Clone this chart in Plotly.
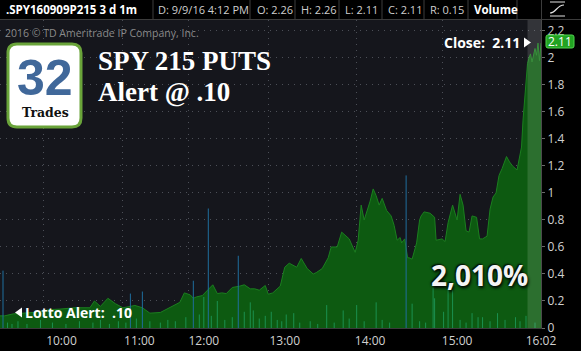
import plotly.graph_objects as go

# ---------------- data ----------------
bar_index = [0, 3, 9, 13, 22, 30, 33, 40, 50, 60, 63, 67, 72, 77, 82, 87, 90, 95, 100, 107,
             113, 120, 123, 127, 129, 131, 135, 140, 142, 145, 148, 151, 155, 160, 163, 167,
             170, 173, 177, 179, 182, 187, 189, 190, 193, 197, 198, 201, 205, 209, 211, 215,
             219, 221, 225, 228, 231, 233, 237, 239, 241, 243, 247, 249, 251, 253, 255, 258,
             261, 263, 265, 267, 268, 270, 272, 273, 275, 278, 280, 281, 283, 287, 290, 291,
             295, 297, 299, 300, 302, 305, 307, 309, 311, 313, 315, 318, 320, 322, 325, 327,
             329, 331, 333, 335, 338, 340, 342, 345, 347, 348, 349, 350, 351, 352, 353, 354,
             355, 357, 358, 359, 360, 361]
price = [0.09, 0.09, 0.105, 0.107, 0.115, 0.13, 0.136, 0.14, 0.15, 0.15, 0.20, 0.16, 0.22, 0.18,
         0.15, 0.16, 0.167, 0.15, 0.11, 0.115, 0.15, 0.19, 0.26, 0.245, 0.22, 0.23, 0.24, 0.30,
         0.32, 0.255, 0.26, 0.255, 0.30, 0.31, 0.32, 0.29, 0.29, 0.28, 0.315, 0.25, 0.26, 0.31,
         0.41, 0.45, 0.48, 0.46, 0.45, 0.515, 0.44, 0.40, 0.41, 0.44, 0.52, 0.60, 0.60, 0.71,
         0.68, 0.66, 0.56, 0.65, 0.91, 0.80, 0.94, 1.03, 0.98, 0.91, 0.96, 0.87, 0.83, 0.76,
         0.65, 0.67, 0.63, 0.66, 0.52, 0.52, 0.51, 0.63, 0.80, 0.83, 0.86, 0.85, 0.82, 0.65,
         0.66, 0.64, 0.78, 0.83, 0.91, 0.80, 0.99, 0.91, 0.72, 0.71, 0.83, 0.82, 0.66, 0.66,
         0.68, 0.88, 0.97, 1.00, 1.13, 1.18, 1.27, 1.23, 1.20, 1.17, 1.28, 1.34, 1.54, 1.69,
         1.78, 1.96, 2.00, 2.03, 1.97, 2.07, 2.02, 2.11, 1.98, 2.11]

blue_vol_index = [2, 87, 95, 129, 139, 159, 271]
blue_volume = [0.425, 0.255, 0.27, 0.35, 0.885, 0.535, 1.13]

green_vol_index = [5, 8, 12, 18, 27, 35, 44, 53, 62, 67, 73, 79, 84, 91, 100, 107, 112, 117,
                   124, 133, 136, 141, 145, 150, 155, 163, 167, 169, 173, 177, 181, 185, 188,
                   191, 196, 200, 207, 212, 218, 223, 229, 233, 238, 243, 251, 255, 260, 275,
                   280, 284, 289, 290, 296, 299, 302, 307, 311, 315, 319, 322, 327, 332, 337,
                   344, 347, 351, 357]
green_volume = [0.04, 0.03, 0.05, 0.03, 0.06, 0.04, 0.03, 0.05, 0.04, 0.06, 0.03, 0.05, 0.04,
                0.07, 0.05, 0.04, 0.06, 0.05, 0.08, 0.10, 0.23, 0.09, 0.20, 0.06, 0.08, 0.12,
                0.19, 0.13, 0.07, 0.09, 0.12, 0.06, 0.05, 0.10, 0.11, 0.04, 0.05, 0.03, 0.17,
                0.04, 0.13, 0.07, 0.17, 0.05, 0.19, 0.06, 0.04, 0.18, 0.05, 0.04, 0.30, 0.22,
                0.12, 0.33, 0.28, 0.06, 0.04, 0.11, 0.08, 0.08, 0.05, 0.11, 0.06, 0.08, 0.05,
                0.09, 0.04]

y_ticks = [0, 0.2, 0.4, 0.6, 0.8, 1.0, 1.2, 1.4, 1.6, 1.8, 2.0, 2.2]
y_labels = ["0", "0.2", "0.4", "0.6", "0.8", "1", "1.2", "1.4", "1.6", "1.8", "2", "2.2"]
time_ticks = [41, 93, 136, 190, 247, 305, 361]
time_labels = ["10:00", "11:00", "12:00", "13:00", "14:00", "15:00", "16:02"]
grid_bars = [29, 82, 126, 179, 238, 295]

header_items = [(".SPY160909P215 3 d 1m", 4, "#ffffff", True),
                ("D: 9/9/16 4:12 PM", 156, "#cfcfcf", False),
                ("O: 2.26", 255, "#cfcfcf", False),
                ("H: 2.26", 299, "#cfcfcf", False),
                ("L: 2.11", 343, "#cfcfcf", False),
                ("C: 2.11", 386, "#cfcfcf", False),
                ("R: 0.15", 428, "#cfcfcf", False),
                ("Volume", 472, "#ffffff", True)]
header_separators = [153, 250, 295, 339, 382, 424, 468, 517]

# ---------------- layout helpers ----------------
W, H = 581, 351
ML, MR, MT, MB = 0, 40, 20, 23
PW, PH = W - ML - MR, H - MT - MB
X_MAX = 361
Y_MAX = 2.281


def fx(px):
    return (px - ML) / PW


def fy(py):
    return (H - MB - py) / PH


def P(px, py):
    return f"{fx(px):.5f},{fy(py):.5f}"


def stems(idx, vals):
    xs, ys = [], []
    for i, v in zip(idx, vals):
        xs += [i, i, None]
        ys += [0, v, None]
    return xs, ys


fig = go.Figure()

fig.add_trace(go.Scatter(
    x=bar_index, y=price, mode="lines", fill="tozeroy",
    line=dict(color="#1b7f1f", width=1), fillcolor="#0d5a11",
    hoverinfo="skip", showlegend=False))

gx, gy = stems(green_vol_index, green_volume)
fig.add_trace(go.Scatter(x=gx, y=gy, mode="lines", line=dict(color="#1b9050", width=1),
                         hoverinfo="skip", showlegend=False))
bx, by = stems(blue_vol_index, blue_volume)
fig.add_trace(go.Scatter(x=bx, y=by, mode="lines", line=dict(color="#1f6e9e", width=1),
                         hoverinfo="skip", showlegend=False))

shapes = []
# after-hours band
shapes.append(dict(type="rect", xref="x", yref="paper", x0=352, x1=X_MAX, y0=0, y1=1,
                   fillcolor="rgba(255,255,255,0.13)", line=dict(width=0), layer="above"))
# header bottom line
shapes.append(dict(type="line", xref="paper", yref="paper", x0=fx(0), x1=fx(W),
                   y0=fy(19.5), y1=fy(19.5), line=dict(color="#3c3c3c", width=1)))
for sx in header_separators:
    shapes.append(dict(type="line", xref="paper", yref="paper", x0=fx(sx), x1=fx(sx),
                       y0=fy(0), y1=fy(19), line=dict(color="#3c3c3c", width=1)))
# vertical line separating price scale
shapes.append(dict(type="line", xref="paper", yref="paper", x0=fx(541.5), x1=fx(541.5),
                   y0=fy(0), y1=fy(20), line=dict(color="#3c3c3c", width=1)))
# icon (top right)
shapes.append(dict(type="path", xref="paper", yref="paper",
                   path=f"M{P(550,2)} L{P(565,2)} M{P(550,16)} L{P(565,16)} "
                        f"M{P(550,13)} C{P(556,13)} {P(557,5)} {P(564,5)}",
                   line=dict(color="#e0e0e0", width=1.2)))
# close badge
shapes.append(dict(type="path", xref="paper", yref="paper",
                   path=f"M{P(548,35)} L{P(572,35)} Q{P(574,35)} {P(574,37)} L{P(574,46)} "
                        f"Q{P(574,48)} {P(572,48)} L{P(548,48)} Q{P(546,48)} {P(546,46)} "
                        f"L{P(546,37)} Q{P(546,35)} {P(548,35)} Z",
                   fillcolor="#22a322", line=dict(color="#4fd34f", width=1)))
# close arrow
shapes.append(dict(type="path", xref="paper", yref="paper",
                   path=f"M{P(524,37.5)} L{P(531,42.5)} L{P(524,47.5)} Z",
                   fillcolor="#ffffff", line=dict(width=0)))
# lotto arrow
shapes.append(dict(type="path", xref="paper", yref="paper",
                   path=f"M{P(22,307.5)} L{P(15,312.5)} L{P(22,317.5)} Z",
                   fillcolor="#ffffff", line=dict(width=0)))
# logo box
lx0, lx1, ly0, ly1, r = 8, 81, 44, 127, 9
shapes.append(dict(type="path", xref="paper", yref="paper",
                   path=f"M{P(lx0+r,ly0)} L{P(lx1-r,ly0)} Q{P(lx1,ly0)} {P(lx1,ly0+r)} "
                        f"L{P(lx1,ly1-r)} Q{P(lx1,ly1)} {P(lx1-r,ly1)} L{P(lx0+r,ly1)} "
                        f"Q{P(lx0,ly1)} {P(lx0,ly1-r)} L{P(lx0,ly0+r)} Q{P(lx0,ly0)} {P(lx0+r,ly0)} Z",
                   fillcolor="#ffffff", line=dict(color="#6aa43a", width=3)))

ann = []
for text, hx, col, bold in header_items:
    ann.append(dict(text=text, xref="paper", yref="paper", x=fx(hx), y=fy(9.5),
                    xanchor="left", yanchor="middle", showarrow=False,
                    font=dict(family="Open Sans", size=11 if not bold else 11.5, color=col,
                              weight="bold" if bold else "normal")))
ann.append(dict(text="2016 © TD Ameritrade IP Company, Inc.", xref="paper", yref="paper",
                x=fx(3), y=fy(33), xanchor="left", yanchor="middle", showarrow=False,
                font=dict(family="Open Sans", size=10.5, color="#8a8a8a")))
ann.append(dict(text="SPY 215 PUTS", xref="paper", yref="paper", x=fx(96), y=fy(61),
                xanchor="left", yanchor="middle", showarrow=False,
                font=dict(family="Liberation Serif", size=27,
                          color="#ffffff", weight="bold")))
ann.append(dict(text="Alert @ .10", xref="paper", yref="paper", x=fx(96), y=fy(92),
                xanchor="left", yanchor="middle", showarrow=False,
                font=dict(family="Liberation Serif", size=27,
                          color="#ffffff", weight="bold")))
ann.append(dict(text="32", xref="paper", yref="paper", x=fx(45), y=fy(78),
                xanchor="center", yanchor="middle", showarrow=False,
                font=dict(family="Liberation Sans", size=50, color="#40689a", weight="bold")))
ann.append(dict(text="Trades", xref="paper", yref="paper", x=fx(45), y=fy(112),
                xanchor="center", yanchor="middle", showarrow=False,
                font=dict(family="DejaVu Serif", size=12.5, color="#111111", weight="bold")))
ann.append(dict(text="Close:\u00a0 2.11", xref="paper", yref="paper", x=fx(522), y=fy(42.5),
                xanchor="right", yanchor="middle", showarrow=False,
                font=dict(family="Open Sans", size=14, color="#ffffff", weight="bold")))
ann.append(dict(text="2.11", xref="paper", yref="paper", x=fx(560), y=fy(41.5),
                xanchor="center", yanchor="middle", showarrow=False,
                font=dict(family="Open Sans", size=12, color="#ffffff")))
ann.append(dict(text="Lotto Alert:\u00a0 .10", xref="paper", yref="paper", x=fx(23), y=fy(312.5),
                xanchor="left", yanchor="middle", showarrow=False,
                font=dict(family="Open Sans", size=14, color="#ffffff", weight="bold")))
ann.append(dict(text="2,010%", xref="paper", yref="paper", x=fx(479), y=fy(275),
                xanchor="center", yanchor="middle", showarrow=False,
                font=dict(family="Open Sans", size=28, color="#f4f4f4", weight="bold",
                          shadow="1px 2px 3px #000, -1px -1px 2px #000")))

fig.update_layout(
    width=W, height=H, margin=dict(l=ML, r=MR, t=MT, b=MB),
    paper_bgcolor="#000000", plot_bgcolor="#15161c",
    showlegend=False, hovermode=False,
    shapes=shapes, annotations=ann,
    xaxis=dict(range=[0, X_MAX], tickvals=time_ticks, ticktext=time_labels,
               showgrid=False, zeroline=False, ticks="outside", ticklen=2,
               tickcolor="rgba(0,0,0,0)",
               showline=True, linecolor="#3a3a3a", linewidth=1,
               tickfont=dict(family="Open Sans", size=12, color="#d0d0d0"),
               minor=dict(tickvals=grid_bars, showgrid=True, gridcolor="#4c4f57",
                          griddash="1px,5px", gridwidth=1, ticks="")),
    yaxis=dict(side="right", range=[0, Y_MAX], tickvals=y_ticks, ticktext=y_labels,
               showgrid=True, gridcolor="#4c4f57", griddash="1px,5px", gridwidth=1,
               zeroline=False, showline=True, linecolor="#4a4a4a", linewidth=1,
               ticks="outside", ticklen=3, tickcolor="#6a6a6a",
               tickfont=dict(family="Open Sans", size=12, color="#d0d0d0")),
)

fig.write_html("out.html", config={"displayModeBar": False})
